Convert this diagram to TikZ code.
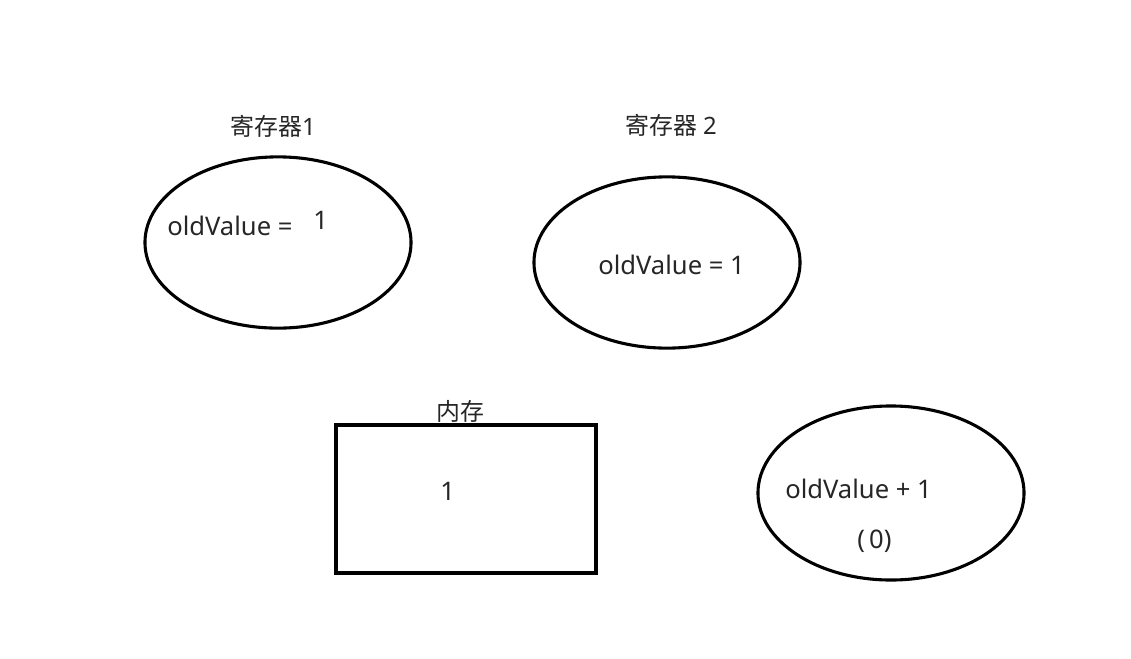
\documentclass[tikz,border=0pt]{standalone}
\usepackage{fontspec}
\setmainfont{Noto Sans}
\newfontfamily\cjk{Noto Sans CJK SC}
\usetikzlibrary{shapes.geometric}

\tikzset{
  reg/.style={draw,ellipse,line width=2.2pt,inner sep=0pt,minimum width=6.65cm,minimum height=4.28cm},
  mem/.style={draw,rectangle,line width=2.6pt,inner sep=0pt,minimum width=6.5cm,minimum height=3.7cm},
  txt/.style={anchor=base west,inner sep=0pt,text=black!85,font=\fontsize{18.2}{21}\selectfont},
  lbl/.style={txt,font=\fontsize{17}{20}\selectfont},
}

\begin{document}
\begin{tikzpicture}[x=0.025cm,y=-0.025cm]
    \useasboundingbox (0,0) rectangle (1131,658);
    % --- registers
    \node[reg] (r1) at (278,242.5) {};
    \node[reg] (r2) at (667,262.5) {};
    \node[lbl] (r1lbl) at (230,135) {{\cjk 寄存器}1};
    \node[lbl] (r2lbl) at (625,134) {{\cjk 寄存器} 2};
    \node[txt] (r1val) at (167,235) {oldValue =};
    \node[txt] (r1one) at (313,229) {1};
    \node[txt] (r2val) at (598,274) {oldValue = 1};
    % --- memory
    \node[mem] (m) at (466,499) {};
    \node[lbl] (mlbl) at (436,420) {\cjk 内存};
    \node[txt] (mval) at (440,500.5) {1};
    % --- increment
    \node[reg,minimum height=4.35cm] (inc) at (891,493) {};
    \node[txt] (incval) at (785,498) {oldValue + 1};
    \node[txt] (inczero) at (857,548) {(\,0)};
\end{tikzpicture}
\end{document}
